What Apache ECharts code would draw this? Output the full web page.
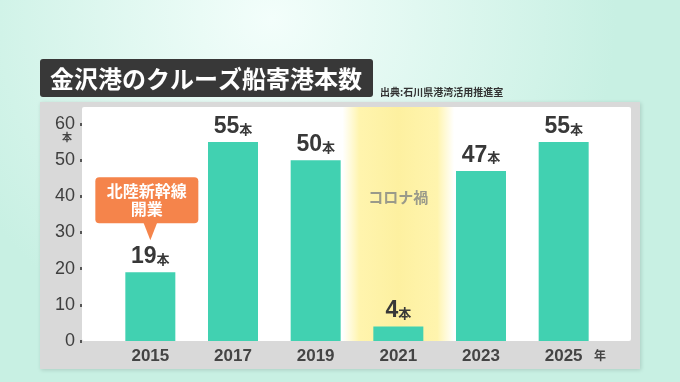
<!DOCTYPE html>
<html><head><meta charset="utf-8">
<script src="https://cdn.jsdelivr.net/npm/echarts@6/dist/echarts.min.js"></script>
<style>html,body{margin:0;padding:0;}#c{width:680px;height:382px;}</style>
</head><body><div id="c"></div>
<script>
const categories = ['2015', '2017', '2019', '2021', '2023', '2025'];
const counts = [19, 55, 50, 4, 47, 55];
const yMin = 0, yMax = 60, yInterval = 10;
const titleText = '金沢港のクルーズ船寄港本数';
const sourceText = '出典:石川県港湾活用推進室';
const unitText = '本';
const yearUnit = '年';
const highlightCategory = '2021';
const highlightText = 'コロナ禍';
const noteCategory = '2015';
const noteText = ['北陸新幹線', '開業'];

const FONT = '"Liberation Sans", "Noto Sans CJK JP", sans-serif';
const JFONT = '"Noto Sans CJK JP", sans-serif';
const chart = echarts.init(document.getElementById('c'));

const baseGraphics = [
  { type: 'rect', z: -10, shape: { x: 40, y: 102, width: 600, height: 267 },
    style: { fill: '#d9d9d9', shadowBlur: 4, shadowColor: 'rgba(0,0,0,0.15)', shadowOffsetX: 1, shadowOffsetY: 1 } },
  { type: 'rect', z: -9, shape: { x: 82, y: 107, width: 549, height: 234, r: 2 }, style: { fill: '#ffffff' } },
  { type: 'rect', z: 5, shape: { x: 40, y: 59, width: 333, height: 38, r: 3 }, style: { fill: '#383838' } },
  { type: 'text', z: 6, x: 50, y: 79, style: { text: titleText, fill: '#ffffff', font: 'bold 24px ' + JFONT, verticalAlign: 'middle' } },
  { type: 'text', z: 6, x: 380, y: 92, style: { text: sourceText, fill: '#333333', font: 'bold 10px ' + JFONT, verticalAlign: 'middle' } },
  { type: 'text', z: 6, x: 67, y: 137, style: { text: unitText, fill: '#444', font: 'bold 10px ' + JFONT, align: 'center', verticalAlign: 'middle' } },
  { type: 'text', z: 6, x: 600, y: 355, style: { text: yearUnit, fill: '#444', font: 'bold 12px ' + JFONT, align: 'center', verticalAlign: 'middle' } }
];

chart.setOption({
  backgroundColor: { type: 'radial', x: 0.4, y: 0.05, r: 0.9,
    colorStops: [{ offset: 0, color: '#f3fefb' }, { offset: 1, color: '#c8f0e3' }] },
  animation: false,
  grid: { left: 109, right: 75, top: 124, bottom: 41 },
  xAxis: {
    type: 'category', data: categories,
    axisLine: { show: false }, axisTick: { show: false },
    axisLabel: { margin: 7, color: '#444', fontSize: 17, fontWeight: 'bold', fontFamily: FONT }
  },
  yAxis: {
    type: 'value', min: yMin, max: yMax, interval: yInterval, offset: 27, z: 4,
    axisLine: { show: false },
    axisTick: { show: true, length: 2, lineStyle: { width: 3, color: '#555' } },
    splitLine: { show: false },
    axisLabel: { margin: 7, color: '#3f3f3f', fontSize: 18, fontFamily: FONT }
  },
  graphic: baseGraphics,
  series: [{
    type: 'bar', data: counts, barWidth: 50, z: 3,
    itemStyle: { color: '#41d1b1' },
    label: {
      show: true, position: 'top', distance: 4,
      formatter: p => '{n|' + p.value + '}{u|' + unitText + '}',
      rich: {
        n: { fontSize: 23, fontWeight: 'bold', color: '#383838', fontFamily: FONT },
        u: { fontSize: 13, fontWeight: 'bold', color: '#383838', fontFamily: JFONT, padding: [4, 0, 0, 0] }
      }
    }
  }]
});

const step = chart.convertToPixel({ xAxisIndex: 0 }, categories[1]) - chart.convertToPixel({ xAxisIndex: 0 }, categories[0]);
const hx = chart.convertToPixel({ xAxisIndex: 0 }, highlightCategory);
const bandW = step * 1.35;
const noteIdx = categories.indexOf(noteCategory);
const notePt = chart.convertToPixel({ xAxisIndex: 0, yAxisIndex: 0 }, [noteCategory, counts[noteIdx]]);
const tipY = notePt[1] - 32;
const nx = notePt[0];

chart.setOption({
  graphic: baseGraphics.concat([
    { type: 'rect', z: -8, shape: { x: hx - bandW / 2, y: 107, width: bandW, height: 234 },
      style: { fill: { type: 'linear', x: 0, y: 0, x2: 1, y2: 0,
        colorStops: [
          { offset: 0, color: 'rgba(255,244,170,0)' },
          { offset: 0.15, color: 'rgba(255,243,165,0.9)' },
          { offset: 0.5, color: 'rgba(253,240,160,1)' },
          { offset: 0.85, color: 'rgba(255,243,165,0.9)' },
          { offset: 1, color: 'rgba(255,244,170,0)' }] } } },
    { type: 'text', z: 6, x: hx, y: 197, style: { text: highlightText, fill: '#9a9a8a', font: 'bold 15px ' + JFONT, align: 'center', verticalAlign: 'middle' } },
    { type: 'rect', z: 6, shape: { x: nx - 55, y: tipY - 63, width: 103, height: 46, r: 4 }, style: { fill: '#f5844b' } },
    { type: 'polygon', z: 6, shape: { points: [[nx - 7, tipY - 18], [nx + 7, tipY - 18], [nx, tipY]] }, style: { fill: '#f5844b' } },
    { type: 'text', z: 7, x: nx - 3.5, y: tipY - 40, style: { text: noteText.join('\n'), fill: '#ffffff', font: 'bold 16px ' + JFONT, align: 'center', verticalAlign: 'middle', lineHeight: 18 } }
  ])
});
</script>
</body></html>
